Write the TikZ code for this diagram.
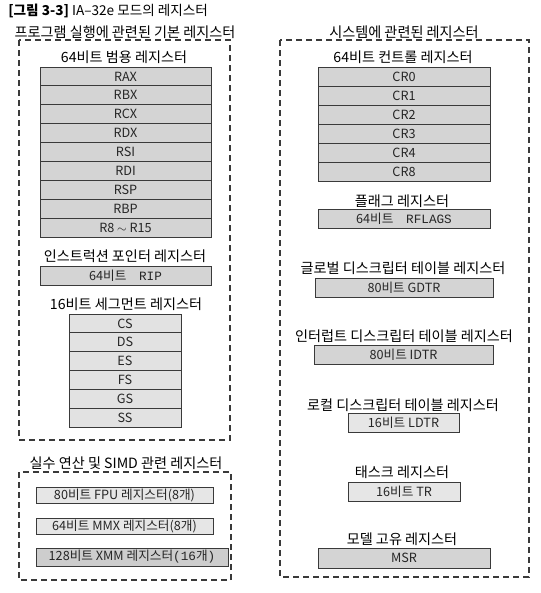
\documentclass[tikz,border=0pt]{standalone}
\usepackage{fontspec}
\setmainfont{Noto Sans CJK KR}
\newfontfamily\monofont{Liberation Mono}
\usepackage{xcolor}
\definecolor{gpfill}{HTML}{D4D4D4}
\definecolor{segfill}{HTML}{E2E2E2}
\definecolor{litefill}{HTML}{E6E6E6}
\definecolor{xmmfill}{HTML}{CDCDCD}
\definecolor{linegray}{HTML}{3A3A3A}

\begin{document}
\begin{tikzpicture}[x=0.75pt,y=-0.75pt,
  grp/.style={draw=linegray, line width=0.8pt, dash pattern=on 4.5pt off 3pt},
  head/.style={inner sep=0pt, font=\fontsize{10.6}{12}\selectfont},
  reg/.style={draw=linegray, line width=0.7pt, fill=#1, inner sep=0pt,
    font=\fontsize{9.5}{10}\selectfont, text=black!85},
  reg/.default=gpfill,
  boxw/.style={minimum width=#1*0.75pt},
  boxh/.style={minimum height=#1*0.75pt}]
  \useasboundingbox (0,0) rectangle (541,593);
  \node[anchor=west, inner sep=0pt, font=\fontsize{10.2}{12}\selectfont] (title) at (8,11)
    {\textbf{[그림 3-3]} IA--32e 모드의 레지스터};
  % group frames
  \draw[grp] (19,40) rectangle (230,440);
  \draw[grp] (280,40) rectangle (529,577);
  \draw[grp] (19,472) rectangle (231,580);
  \node[head] (basehead) at (125,32) {프로그램 실행에 관련된 기본 레지스터};
  \node[head] (syshead) at (404,32) {시스템에 관련된 레지스터};
  \node[head] (simdhead) at (126,463) {실수 연산 및 SIMD 관련 레지스터};
  % general purpose, 9 rows
  \node[head] (gphead) at (124,57) {64비트 범용 레지스터};
  \foreach \r [count=\i] in {RAX,RBX,RCX,RDX,RSI,RDI,RSP,RBP,{R8 $\sim$ R15}}
    \node[reg, boxw=171, boxh=18.9] (gp\i) at (125.5,{67+18.9*(\i-0.5)}) {\r};
  \node[head] (riphead) at (125,256) {인스트럭션 포인터 레지스터};
  \node[reg, boxw=171, boxh=19] (rip) at (125.5,275.5) {64비트\quad{\monofont RIP}};
  % segment registers
  \node[head] (seghead) at (126,304) {16비트 세그먼트 레지스터};
  \foreach \r [count=\i] in {CS,DS,ES,FS,GS,SS}
    \node[reg=segfill, boxw=112, boxh=18.83] (seg\i) at (125,{314+18.83*(\i-0.5)}) {\r};
  % fpu / simd
  \node[reg=litefill, boxw=177, boxh=16] (fpu) at (124.5,495) {80비트 FPU 레지스터(8개)};
  \node[reg=litefill, boxw=177, boxh=16] (mmx) at (124.5,526.5) {64비트 MMX 레지스터(8개)};
  \node[reg=xmmfill, boxw=192, boxh=18] (xmm) at (132,557)
    {128비트 XMM 레지스터{\monofont(16}개{\monofont)}};
  % control registers
  \node[head] (crhead) at (403,57) {64비트 컨트롤 레지스터};
  \foreach \r [count=\i] in {CR0,CR1,CR2,CR3,CR4,CR8}
    \node[reg, boxw=172, boxh=19] (cr\i) at (404,{67+19*(\i-0.5)}) {\r};
  \node[head] (flaghead) at (402,201) {플래그 레지스터};
  \node[reg, boxw=172, boxh=19] (rflags) at (404,218.5) {64비트\quad{\monofont RFLAGS}};
  \node[head] (gdtrhead) at (403,268) {글로벌 디스크립터 테이블 레지스터};
  \node[reg, boxw=178, boxh=19] (gdtr) at (404,287.5) {80비트 GDTR};
  \node[head] (idtrhead) at (404,336) {인터럽트 디스크립터 테이블 레지스터};
  \node[reg, boxw=179, boxh=19] (idtr) at (403.5,354.5) {80비트 IDTR};
  \node[head] (ldtrhead) at (403,405) {로컬 디스크립터 테이블 레지스터};
  \node[reg=litefill, boxw=111, boxh=19] (ldtr) at (403.5,422.5) {16비트 LDTR};
  \node[head] (trhead) at (402,472) {태스크 레지스터};
  \node[reg=litefill, boxw=112, boxh=19] (tr) at (404,491.5) {16비트 TR};
  \node[head] (msrhead) at (402,539) {모델 고유 레지스터};
  \node[reg, boxw=172, boxh=20] (msr) at (404,558) {MSR};
\end{tikzpicture}
\end{document}
